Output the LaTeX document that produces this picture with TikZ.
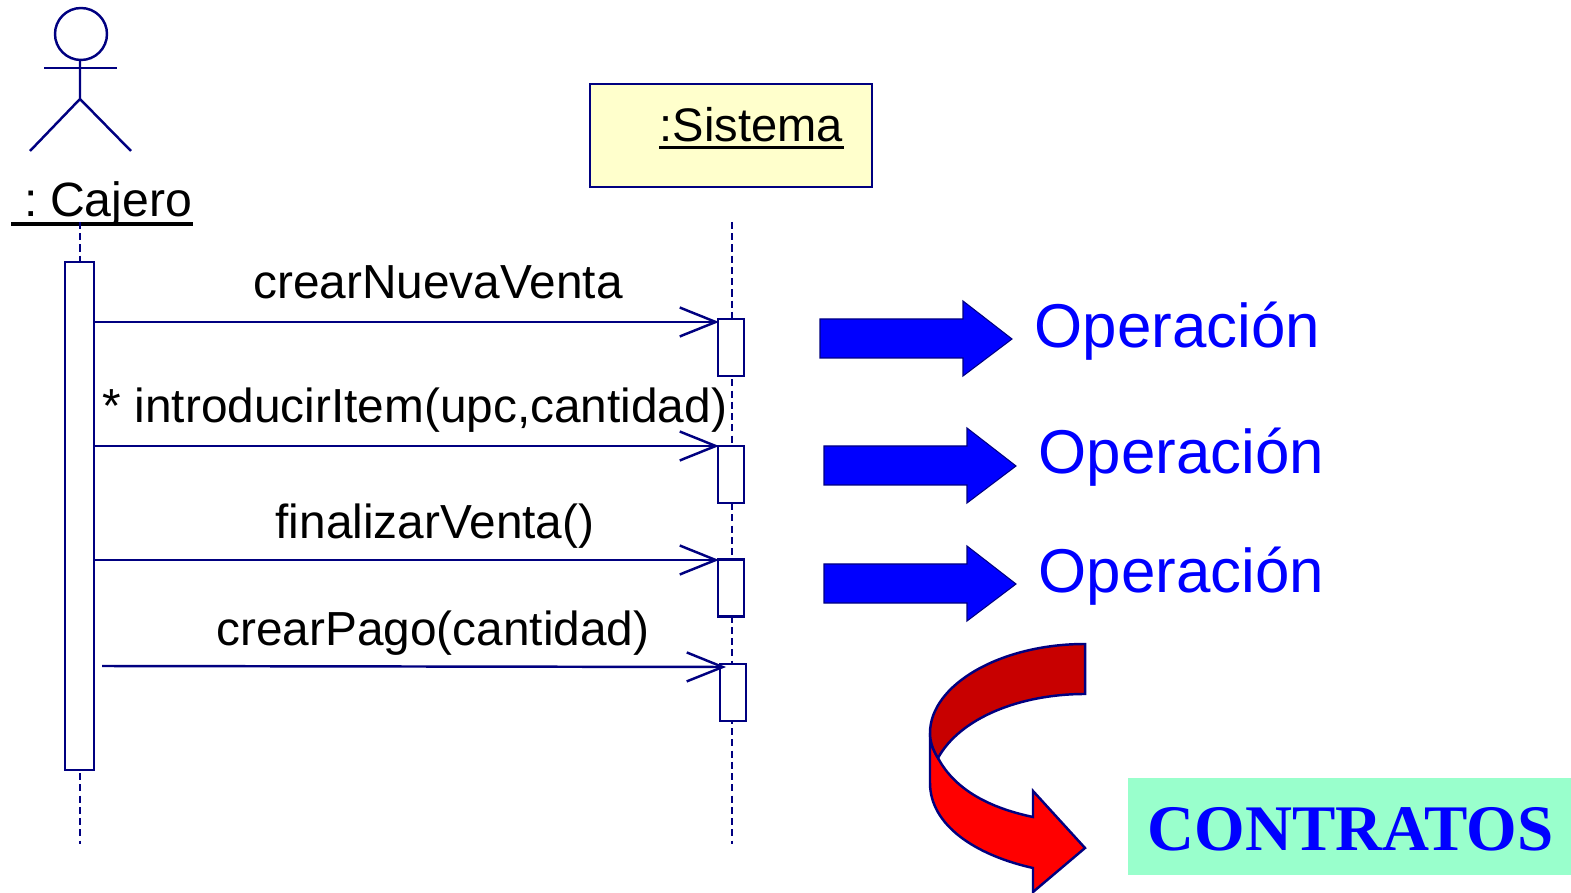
\documentclass[tikz,border=0pt]{standalone}
\usepackage{fontspec}
\setmainfont{Liberation Sans}
\newfontfamily\serifcontrato{Liberation Serif}
\usetikzlibrary{arrows.meta}
\definecolor{marino}{HTML}{000080}
\definecolor{amarillo}{HTML}{FFFFCC}
\definecolor{verdeclaro}{HTML}{99FFCC}
\definecolor{rojooscuro}{HTML}{C80000}
\tikzset{
    linea/.style = {draw=marino, line width=0.7pt},
    vida/.style = {linea, dash pattern=on 2pt off 1.2pt},
    barra/.style = {linea, fill=white, minimum width=.26cm, minimum height=.57cm, inner sep=0pt},
    mensaje/.style = {linea, -{Straight Barb[length=.36cm, width=.29cm, line width=0.7pt]}},
    texto/.style = {anchor=base, inner sep=0pt, font=\fontsize{13.6}{16}\selectfont},
    nombre/.style = {anchor=base west, inner sep=0pt, font=\fontsize{13.4}{16}\selectfont},
    operacion/.style = {anchor=base west, inner sep=0pt, text=blue, font=\fontsize{17.6}{20}\selectfont},
    flecha/.style = {draw=marino, line width=0.3pt, fill=blue},
    curva/.style = {draw=marino, line width=0.7pt}
}
\begin{document}
\begin{tikzpicture}
            \useasboundingbox (0, 0) rectangle (15.71, 8.92);

            % actor
                \coordinate (cadera) at (0.80, 7.93);
                \node[linea, circle, minimum size=.52cm, inner sep=0pt] (cabeza) at (0.81, 8.58) {};
                \draw[linea] (cadera |- cabeza.south) -- (cadera) -- (0.30, 7.41);
                \draw[linea] (cadera) -- (1.31, 7.41);
                \draw[linea] (0.44, 8.24) -- (1.17, 8.24);
                \node[nombre, font=\fontsize{13.7}{16}\selectfont] (cajero) at (0.11, 6.75) {\hspace*{.13cm}:\hspace{.12cm}Cajero};
                \draw[line width=1.1pt] ([yshift=-.07cm]cajero.base west) -- ([yshift=-.07cm]cajero.base east);

            % sistema
                \node[linea, fill=amarillo, minimum width=2.82cm, minimum height=1.03cm] (sistema) at (7.31, 7.565) {};
                \node[nombre] (etiqueta) at (6.59, 7.50) {:Sistema};
                \draw[line width=.85pt] ([yshift=-.06cm]etiqueta.base west) -- ([yshift=-.06cm]etiqueta.base east);

            % lifelines
                \coordinate (iniA) at (0.80, 6.70);
                \coordinate (finA) at (0.80, 0.48);
                \coordinate (iniB) at (7.32, 6.70);
                \coordinate (finB) at (7.32, 0.48);
                \draw[vida] (iniA) -- (finA);
                \draw[vida] (iniB) -- (finB);

            % activation bars
                \node[barra, minimum width=.29cm, minimum height=5.08cm] (barCajero) at (0.795, 3.76) {};
                \node[barra] (barUno) at (7.31, 5.445) {};
                \node[barra] (barDos) at (7.31, 4.175) {};
                \node[barra] (barTres) at (7.31, 3.04) {};
                \node[barra] (barCuatro) at (7.33, 1.995) {};

            % messages
                \coordinate (finUno) at (7.19, 5.70);
                \coordinate (finDos) at (7.19, 4.46);
                \coordinate (finTres) at (7.19, 3.32);
                \coordinate (iniCuatro) at (1.02, 2.26);
                \coordinate (finCuatro) at (7.26, 2.25);
                \draw[mensaje] (barCajero.east |- finUno) -- (finUno);
                \draw[mensaje] (barCajero.east |- finDos) -- (finDos);
                \draw[mensaje] (barCajero.east |- finTres) -- (finTres);
                \draw[mensaje] (iniCuatro) -- (finCuatro);

                \node[texto] (msgUno) at (4.38, 5.93) {crearNuevaVenta};
                \node[texto] (msgDos) at (4.15, 4.69) {* introducirItem(upc,cantidad)};
                \node[texto] (msgTres) at (4.35, 3.53) {finalizarVenta()};
                \node[texto] (msgCuatro) at (4.33, 2.465) {crearPago(cantidad)};

            % operations
                \foreach \n/\x/\y/\b in {1/8.20/5.73/5.44, 2/8.24/4.46/4.18, 3/8.24/3.28/3.00} {
                    \draw[flecha] (\x, \y) -- ++(1.43, 0) -- ++(0, .18) -- ++(.49, -.38)
                        -- ++(-.49, -.37) -- ++(0, .18) -- ++(-1.43, 0) -- cycle;
                    \node[operacion] (op\n) at (\x + 2.14, \b) {Operación};
                }

            % curved arrow
                \draw[curva, fill=red] (9.30, 1.59) -- (9.30, 1.09)
                    .. controls (9.30, .67) and (9.75, .37) .. (10.33, .24)
                    -- (10.33, 0) -- (10.85, .44) -- (10.33, 1.01) -- (10.33, .75)
                    .. controls (9.90, .84) and (9.55, 1.02) .. (9.38, 1.34)
                    .. controls (9.33, 1.42) and (9.30, 1.50) .. (9.30, 1.59) -- cycle;
                \draw[curva, fill=rojooscuro] (10.85, 2.48)
                    .. controls (10.00, 2.48) and (9.30, 2.07) .. (9.30, 1.59)
                    .. controls (9.30, 1.50) and (9.33, 1.42) .. (9.38, 1.34)
                    .. controls (9.60, 1.74) and (10.20, 1.98) .. (10.85, 1.98) -- cycle;

            % contracts
                \node[fill=verdeclaro, minimum width=4.43cm, minimum height=.97cm, inner sep=0pt] (contratos) at (13.495, .655) {};
                \node[anchor=base, inner sep=0pt, text=blue, font=\serifcontrato\bfseries\fontsize{18.5}{20}\selectfont] (titulo) at (13.505, .42) {CONTRATOS};
            \end{tikzpicture}
\end{document}
